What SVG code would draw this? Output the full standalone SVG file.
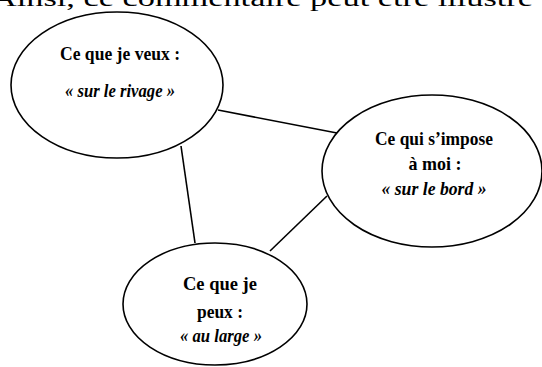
<svg xmlns="http://www.w3.org/2000/svg" width="542" height="367" viewBox="0 0 542 367">
<style>
.node ellipse{fill:#fff;stroke:#000;stroke-width:1.6}
.lbl{font-family:"Liberation Serif",serif;font-weight:bold;font-size:19px;text-anchor:middle;fill:#000}
.it{font-style:italic}
#connectors line{stroke:#000;stroke-width:1.6}
.hdr{font-family:"Liberation Serif",serif;font-size:24px;fill:#000}
</style>
<rect width="542" height="367" fill="#fff"/>
<text class="hdr" x="-8" y="6" textLength="541" lengthAdjust="spacingAndGlyphs">Ainsi, ce commentaire peut être illustré</text>
<g id="connectors">
<line x1="218" y1="110" x2="337" y2="133"/>
<line x1="181" y1="146" x2="195" y2="243"/>
<line x1="327" y1="196" x2="270" y2="251"/>
</g>
<g id="n1" class="node">
<ellipse cx="117" cy="85" rx="106" ry="73"/>
<text class="lbl" x="120" y="60" textLength="120" lengthAdjust="spacingAndGlyphs">Ce que je veux :</text>
<text class="lbl it" x="120" y="97" textLength="110" lengthAdjust="spacingAndGlyphs">« sur le rivage »</text>
</g>
<g id="n2" class="node">
<ellipse cx="432" cy="171" rx="110" ry="76"/>
<text class="lbl" x="434" y="145" textLength="118" lengthAdjust="spacingAndGlyphs">Ce qui s’impose</text>
<text class="lbl" x="435" y="170" textLength="53" lengthAdjust="spacingAndGlyphs">à moi :</text>
<text class="lbl it" x="434" y="195" textLength="105" lengthAdjust="spacingAndGlyphs">« sur le bord »</text>
</g>
<g id="n3" class="node">
<ellipse cx="215" cy="304" rx="92" ry="61"/>
<text class="lbl" x="220" y="290" textLength="74" lengthAdjust="spacingAndGlyphs">Ce que je</text>
<text class="lbl" x="220" y="318" textLength="46" lengthAdjust="spacingAndGlyphs">peux :</text>
<text class="lbl it" x="221" y="342" textLength="82" lengthAdjust="spacingAndGlyphs">« au large »</text>
</g>
</svg>
